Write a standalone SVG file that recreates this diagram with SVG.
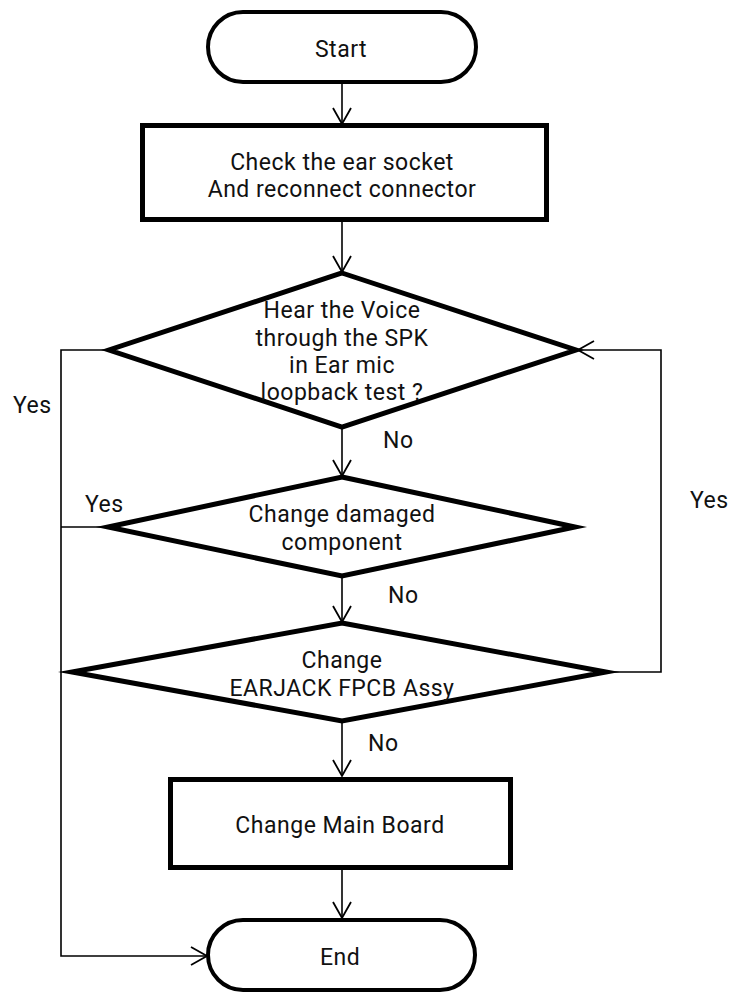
<svg xmlns="http://www.w3.org/2000/svg" width="729" height="994" viewBox="0 0 729 994">
  <style>
    text { font-family: Roboto, "Noto Sans", "DejaVu Sans", sans-serif; font-size: 23px; letter-spacing: 0.5px; fill: #111; }
    .c { text-anchor: middle; }
    .shape { fill: #fff; stroke: #000; stroke-width: 5; stroke-linejoin: miter; stroke-miterlimit: 12; }
    .term { fill: #fff; stroke: #000; stroke-width: 4; }
    .wire { fill: none; stroke: #000; stroke-width: 1.6; }
  </style>
  <defs>
    <marker id="arrow" markerUnits="userSpaceOnUse" viewBox="-20 -12 24 24" markerWidth="24" markerHeight="24" refX="0" refY="0" orient="auto">
      <path d="M-16,-9 L0,0 L-16,9" fill="none" stroke="#000" stroke-width="1.8"/>
    </marker>
  </defs>

  <!-- connectors -->
  <g id="connectors" class="wire">
    <line x1="342" y1="83" x2="342" y2="124" marker-end="url(#arrow)"/>
    <line x1="342" y1="221" x2="342" y2="272" marker-end="url(#arrow)"/>
    <line x1="342" y1="427" x2="342" y2="476" marker-end="url(#arrow)"/>
    <line x1="342" y1="575" x2="342" y2="622" marker-end="url(#arrow)"/>
    <line x1="342" y1="721" x2="342" y2="776" marker-end="url(#arrow)"/>
    <line x1="342" y1="869" x2="342" y2="918" marker-end="url(#arrow)"/>
    <!-- Yes branches on the left lead to End -->
    <polyline points="109,350 61,350 61,956 207,956" marker-end="url(#arrow)"/>
    <line x1="108" y1="527" x2="61" y2="527"/>
    <!-- Yes branch on the right loops back to the first test -->
    <polyline points="606,672 661,672 661,350 578,350" marker-end="url(#arrow)"/>
  </g>

  <g id="start">
    <rect class="term" x="208" y="12" width="268" height="70" rx="35" ry="35"/>
    <text class="c" x="341" y="57">Start</text>
  </g>

  <g id="check-socket">
    <rect class="shape" x="142.5" y="125.5" width="404" height="94"/>
    <text class="c" x="342" y="170">Check the ear socket</text>
    <text class="c" x="342" y="197">And reconnect connector</text>
  </g>

  <g id="loopback-test">
    <polygon class="shape" points="342,273 576,350 342,427 109,350"/>
    <text class="c" x="342" y="318">Hear the Voice</text>
    <text class="c" x="342" y="346">through the SPK</text>
    <text class="c" x="342" y="373">in Ear mic</text>
    <text class="c" x="342" y="400">loopback test ?</text>
  </g>

  <g id="change-component">
    <polygon class="shape" points="342,477 575,527 342,576 108,527"/>
    <text class="c" x="342" y="522">Change damaged</text>
    <text class="c" x="342" y="550">component</text>
  </g>

  <g id="change-earjack">
    <polygon class="shape" points="342,623 606,672 342,721 72,672"/>
    <text class="c" x="342" y="668">Change</text>
    <text class="c" x="342" y="696">EARJACK FPCB Assy</text>
  </g>

  <g id="change-main-board">
    <rect class="shape" x="170.5" y="779.5" width="340" height="88"/>
    <text class="c" x="340" y="833">Change Main Board</text>
  </g>

  <g id="end">
    <rect class="term" x="208" y="920" width="267" height="70" rx="35" ry="35"/>
    <text class="c" x="340" y="965">End</text>
  </g>

  <g id="labels">
    <text x="13" y="413">Yes</text>
    <text x="85" y="512">Yes</text>
    <text x="690" y="508">Yes</text>
    <text x="383" y="448">No</text>
    <text x="388" y="603">No</text>
    <text x="368" y="751">No</text>
  </g>
</svg>
